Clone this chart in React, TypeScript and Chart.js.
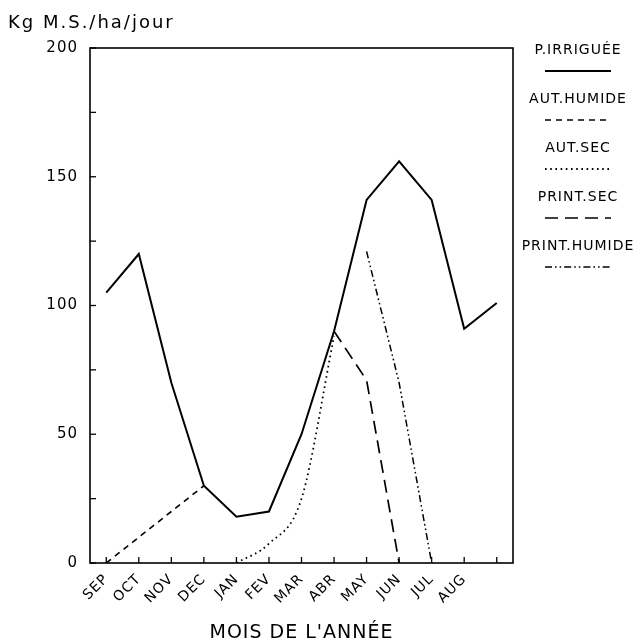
import { useEffect, useRef } from 'react';
import { Chart, registerables } from 'chart.js';

Chart.register(...registerables);

const months = ['SEP', 'OCT', 'NOV', 'DEC', 'JAN', 'FEV', 'MAR', 'ABR', 'MAY', 'JUN', 'JUL', 'AUG', ''];
const pIrriguee = [105, 120, 70, 30, 18, 20, 50, 90, 141, 156, 141, 91, 101];
const autHumide = [0, 10, 20, 30, null, null, null, null, null, null, null, null, null];
const autSec = [null, null, null, null, 0, 7.5, 25, 88, null, null, null, null, null];
const printSec = [null, null, null, null, null, null, null, 90, 71, 0, null, null, null];
const printHumide = [null, null, null, null, null, null, null, null, 121, 70, 0, null, null];
const seriesNames = ['P.IRRIGUÉE', 'AUT.HUMIDE', 'AUT.SEC', 'PRINT.SEC', 'PRINT.HUMIDE'];
const yLabels = [0, 50, 100, 150, 200];
const yTitle = 'Kg M.S./ha/jour';
const xTitle = "MOIS DE L'ANNÉE";

const FONT = "'DejaVu Sans', 'Liberation Sans', sans-serif";

const decorPlugin = {
  id: 'decor',
  beforeDraw(chart: any) {
    chart.ctx.letterSpacing = '1px';
  },
  afterDraw(chart: any) {
    const ctx = chart.ctx;
    const { left, right, top, bottom } = chart.chartArea;
    const xs = chart.scales.x;
    const ys = chart.scales.y;
    ctx.save();
    ctx.strokeStyle = '#000';
    ctx.lineWidth = 1.6;
    ctx.setLineDash([]);
    ctx.strokeRect(left, top, right - left, bottom - top);
    // inward tick marks
    ctx.lineWidth = 1.3;
    for (let i = 0; i < months.length; i++) {
      const px = xs.getPixelForTick(i);
      ctx.beginPath();
      ctx.moveTo(px, bottom);
      ctx.lineTo(px, bottom - 6);
      ctx.stroke();
    }
    for (let v = 0; v <= 200; v += 25) {
      const py = ys.getPixelForValue(v);
      ctx.beginPath();
      ctx.moveTo(left, py);
      ctx.lineTo(left + 6, py);
      ctx.stroke();
    }
    // titles
    ctx.fillStyle = '#000';
    ctx.letterSpacing = '2px';
    ctx.font = `18px ${FONT}`;
    ctx.textAlign = 'left';
    ctx.textBaseline = 'alphabetic';
    ctx.fillText(yTitle, 8, 28);
    ctx.letterSpacing = '1px';
    ctx.font = `19px ${FONT}`;
    ctx.textAlign = 'center';
    ctx.fillText(xTitle, (left + right) / 2, 638);
    // legend
    const cx = 578;
    ctx.font = `14px ${FONT}`;
    chart.data.datasets.forEach((ds: any, i: number) => {
      const ty = 50 + i * 49;
      ctx.fillStyle = '#000';
      ctx.textBaseline = 'middle';
      ctx.fillText(ds.label, cx, ty);
      ctx.beginPath();
      ctx.setLineDash(ds.borderDash || []);
      ctx.lineWidth = ds.borderWidth;
      ctx.moveTo(cx - 33, ty + 21);
      ctx.lineTo(cx + 33, ty + 21);
      ctx.stroke();
    });
    ctx.restore();
  },
};

export default function App() {
  const ref = useRef<HTMLCanvasElement | null>(null);
  useEffect(() => {
    if (!ref.current) return;
    const common = { borderColor: '#000', pointRadius: 0, fill: false, tension: 0, spanGaps: false };
    const chart = new Chart(ref.current, {
      type: 'line',
      data: {
        labels: months,
        datasets: [
          { ...common, label: seriesNames[0], data: pIrriguee, borderWidth: 2, borderDash: [] },
          { ...common, label: seriesNames[1], data: autHumide, borderWidth: 1.6, borderDash: [6, 5] },
          { ...common, label: seriesNames[2], data: autSec, borderWidth: 1.8, borderDash: [1.6, 3.6], cubicInterpolationMode: 'monotone' },
          { ...common, label: seriesNames[3], data: printSec, borderWidth: 1.7, borderDash: [13, 7] },
          { ...common, label: seriesNames[4], data: printHumide, borderWidth: 1.5, borderDash: [7, 3, 1.6, 3, 1.6, 3] },
        ] as any,
      },
      options: {
        responsive: false,
        animation: false,
        devicePixelRatio: 1,
        layout: { padding: { top: 48, right: 126, left: 0, bottom: 0 } },
        plugins: { legend: { display: false }, tooltip: { enabled: false }, title: { display: false } },
        scales: {
          x: {
            type: 'category',
            offset: true,
            grid: { display: false, drawTicks: false },
            border: { display: false },
            ticks: {
              autoSkip: false,
              minRotation: 45,
              maxRotation: 45,
              padding: 8,
              color: '#000',
              font: { family: FONT, size: 14 },
            },
            afterFit(scale: any) {
              scale.height = 80;
            },
          },
          y: {
            min: 0,
            max: 200,
            grid: { display: false, drawTicks: false },
            border: { display: false },
            ticks: {
              stepSize: 50,
              padding: 12,
              color: '#000',
              font: { family: FONT, size: 15 },
              callback: (v: any) => (yLabels.includes(Number(v)) ? String(v) : ''),
            },
            afterFit(scale: any) {
              scale.width = 90;
            },
          },
        },
      } as any,
      plugins: [decorPlugin],
    });
    return () => chart.destroy();
  }, []);
  return (
    <div style={{ position: 'absolute', left: 0, top: 0, width: 639, height: 643, background: '#fff' }}>
      <canvas ref={ref} width={639} height={643} />
    </div>
  );
}
